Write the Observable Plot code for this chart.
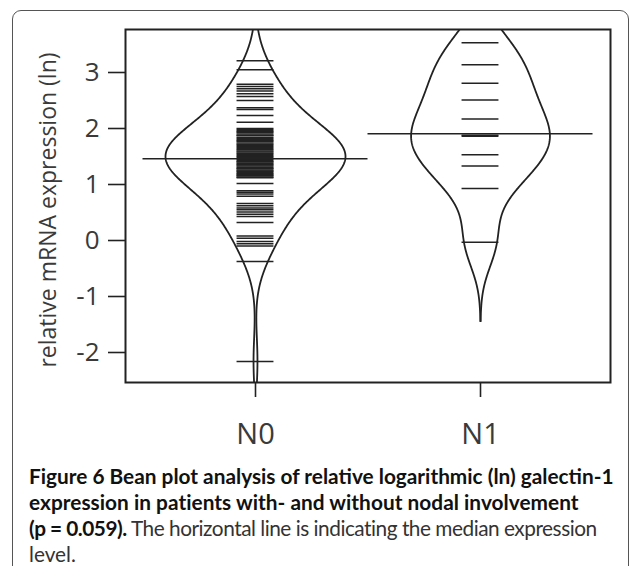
<!DOCTYPE html>
<html><head><meta charset="utf-8">
<script src="https://cdn.jsdelivr.net/npm/d3@7"></script>
<script src="https://cdn.jsdelivr.net/npm/@observablehq/plot@0.6"></script>
<style>
html,body{margin:0;padding:0;background:#fff;}
#wrap{position:relative;width:637px;height:566px;overflow:hidden;background:#fff;}
#box{position:absolute;left:12px;top:10px;width:615px;height:640px;border:1px solid #555;border-radius:9px;}
#chart{position:absolute;left:0;top:0;}
#cap{position:absolute;left:29px;top:463px;font-family:Lato,"Open Sans",sans-serif;font-size:18px;line-height:26px;color:#333;white-space:nowrap;}
#cap b{color:#111;font-weight:700;}
#cap span{display:inline-block;}
</style></head><body>
<div id="wrap"><div id="box"></div><div id="chart"></div>
<div id="cap"><span id="l1"><b>Figure 6 Bean plot analysis of relative logarithmic (ln) galectin-1</b></span><br><span id="l2"><b>expression in patients with- and without nodal involvement</b></span><br><span id="l3"><b>(p = 0.059).</b> The horizontal line is indicating the median expression</span><br><span id="l4">level.</span></div></div>
<script>
// ---- data ----
const categories = ["N0", "N1"];
const n0Values = [
  3.21, 3.05,
  2.79, 2.75, 2.71, 2.67, 2.62, 2.57, 2.50,
  2.37, 2.34, 2.23, 2.11,
  2.00, 1.98, 1.96, 1.94, 1.93, 1.90, 1.88, 1.87, 1.84, 1.82, 1.80, 1.78, 1.77, 1.74,
  1.72, 1.70, 1.68, 1.66, 1.64, 1.62, 1.60, 1.58, 1.56, 1.54, 1.52, 1.50, 1.48,
  1.45,
  1.43, 1.41, 1.40, 1.38, 1.36, 1.35, 1.33, 1.31, 1.29, 1.28, 1.26, 1.24, 1.23, 1.21,
  1.19, 1.18, 1.16, 1.15, 1.13, 1.12,
  1.02, 0.89, 0.86, 0.83, 0.79,
  0.66, 0.62, 0.58, 0.55, 0.51, 0.47, 0.43, 0.32,
  0.08, 0.04, -0.02, -0.06, -0.10, -0.375, -2.16
];
const n1Values = [3.53, 3.14, 2.81, 2.51, 2.17, 1.88, 1.86, 1.53, 1.33, 0.93, -0.03];
const medianValues = [1.46, 1.905];
const yTicks = [-2, -1, 0, 1, 2, 3];
const yLabel = "relative mRNA expression (ln)";
const bandwidth = 0.47;

// ---- derived geometry ----
const groups = [n0Values, n1Values];
function density(values, h) {
  const lo = d3.min(values) - 3 * h, hi = d3.max(values) + 3 * h;
  const c = 1 / (values.length * h * Math.sqrt(2 * Math.PI));
  const out = [];
  const n = 400;
  for (let i = 0; i <= n; i++) {
    const y = lo + (hi - lo) * i / n;
    let s = 0;
    for (const v of values) { const u = (y - v) / h; s += Math.exp(-0.5 * u * u); }
    out.push({y, d: s * c});
  }
  return out;
}
const dens = groups.map(g => density(g, bandwidth));
const maxD = d3.max(dens.flat(), d => d.d);
const beanHalf = 0.4, rugHalf = 0.082, medHalf = 0.5;
const k = beanHalf / maxD;
const beanPts = [];
dens.forEach((arr, gi) => {
  const pos = gi + 1;
  for (const side of [-1, 1]) for (const p of arr) beanPts.push({z: gi + "_" + side, y: p.y, x: pos + side * k * p.d});
});
const rugs = groups.flatMap((g, gi) => g.map(v => ({pos: gi + 1, y: v})));
const meds = medianValues.map((v, gi) => ({pos: gi + 1, y: v}));

const ink = "#222";
const txt = "#3a3a3a";
const font = "'Open Sans', sans-serif";

const chart = Plot.plot({
  width: 637, height: 460,
  marginLeft: 125, marginRight: 27, marginTop: 29, marginBottom: 78,
  style: {fontFamily: font, background: "transparent"},
  x: {type: "linear", domain: [1 - 130/225, 2 + 130/225], axis: null},
  y: {domain: [-142/56, 211/56], axis: null},
  marks: [
    Plot.ruleY(rugs, {y: "y", x1: d => d.pos - rugHalf, x2: d => d.pos + rugHalf, stroke: ink, strokeWidth: 1.5}),
    Plot.line(beanPts, {x: "x", y: "y", z: "z", stroke: ink, strokeWidth: 1.8, clip: true}),
    Plot.ruleY(meds, {y: "y", x1: d => d.pos - medHalf, x2: d => d.pos + medHalf, stroke: ink, strokeWidth: 1.6}),
    Plot.frame({stroke: ink, strokeWidth: 2}),
    Plot.axisY({ticks: yTicks, tickFormat: d => String(d), tickSize: 17, tickPadding: 9, fontSize: 26, label: null, stroke: ink, strokeWidth: 1.6, fill: txt, fontFamily: font}),
    Plot.axisX({ticks: [1, 2], tickFormat: d => categories[d - 1], tickSize: 15, tickPadding: 26, fontSize: 29, label: null, stroke: ink, strokeWidth: 1.6, fill: txt, fontFamily: font}),
    Plot.text([yLabel], {frameAnchor: "left", textAnchor: "middle", rotate: -90, dx: -77, dy: 4, fontSize: 23, fill: txt, fontFamily: font})
  ]
});
document.getElementById("chart").appendChild(chart);

// fit caption lines to the reference widths
const cap = document.getElementById("cap");
const w1 = document.getElementById("l1").getBoundingClientRect().width;
cap.style.fontSize = (18 * 585 / w1) + "px";
for (const [id, target] of [["l2", 550], ["l3", 568]]) {
  const el = document.getElementById(id);
  const n = el.textContent.length;
  const w = el.getBoundingClientRect().width;
  el.style.letterSpacing = ((target - w) / n) + "px";
}
</script>
</body></html>
